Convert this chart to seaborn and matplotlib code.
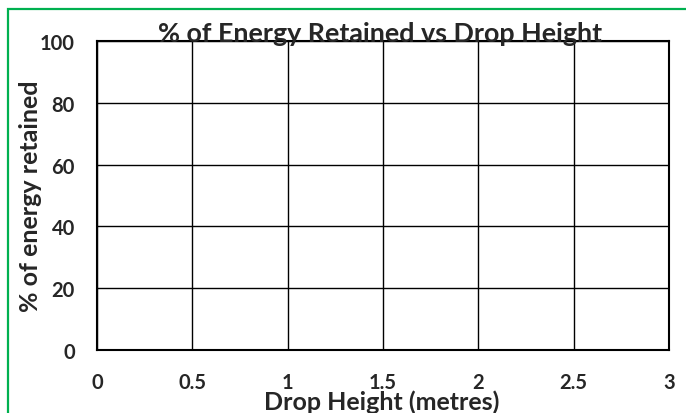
import matplotlib
matplotlib.use("Agg")
import matplotlib.pyplot as plt
import seaborn as sns
import pandas as pd
from matplotlib.patches import Rectangle

title = "% of Energy Retained vs Drop Height"
x_label = "Drop Height (metres)"
y_label = "% of energy retained"
x_ticks = [0, 0.5, 1, 1.5, 2, 2.5, 3]
x_tick_labels = ["0", "0.5", "1", "1.5", "2", "2.5", "3"]
y_ticks = [0, 20, 40, 60, 80, 100]
y_tick_labels = ["0", "20", "40", "60", "80", "100"]
# no data points in the reference chart
drop_height = []
energy_retained = []

sns.set_style("white")
plt.rcParams['font.family'] = ['Lato', 'DejaVu Sans']
plt.rcParams['font.weight'] = 'bold'

fig = plt.figure(figsize=(6.86, 4.14), dpi=100)
ax = fig.add_axes([97/686, 1-351/414, (669-97)/686, (351-42)/414])

df = pd.DataFrame({"x": pd.Series(drop_height, dtype=float),
                   "y": pd.Series(energy_retained, dtype=float)})
sns.lineplot(data=df, x="x", y="y", ax=ax)

ax.set_xlim(x_ticks[0], x_ticks[-1])
ax.set_ylim(y_ticks[0], y_ticks[-1])
ax.set_xticks(x_ticks)
ax.set_xticklabels(x_tick_labels, fontsize=14.5, fontweight='bold')
ax.set_yticks(y_ticks)
ax.set_yticklabels(y_tick_labels, fontsize=14.5, fontweight='bold')
ax.tick_params(axis='both', length=0)
ax.tick_params(axis='x', pad=16)
ax.tick_params(axis='y', pad=16)
ax.grid(True, color='black', linewidth=1.0)
for s in ax.spines.values():
    s.set_visible(True)
    s.set_color('black')
    s.set_linewidth(1.5)
ax.set_xlabel("")
ax.set_ylabel("")

fig.text(382/686, 1-402/414, x_label, ha='center', va='center',
         fontsize=18, fontweight='bold')
fig.text(31/686, 1-196/414, y_label, ha='center', va='center',
         rotation=90, fontsize=18, fontweight='bold')
fig.text(380/686, 1-34/414, title, ha='center', va='center',
         fontsize=19.4, fontweight='bold')

# green frame (left and top edges visible, rest beyond canvas)
fig.patches.append(Rectangle((7.5/686, -0.1), 1.2, 1.1 - 10.5/414,
                             transform=fig.transFigure, fill=False,
                             edgecolor='#00B050', linewidth=1.6, zorder=0))

fig.savefig("out.png", dpi=100)
